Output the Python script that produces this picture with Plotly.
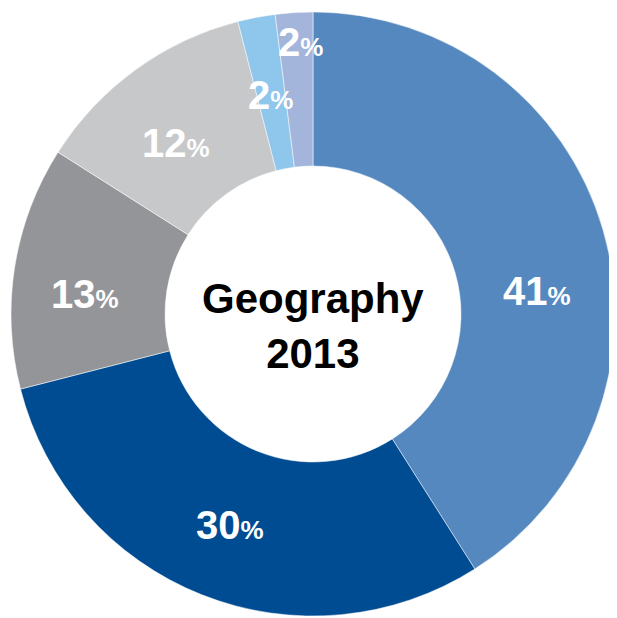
import plotly.graph_objects as go

# slice data, clockwise from 12 o'clock
shares = [41, 30, 13, 12, 2, 2]
colors = ["#5588bf", "#004c93", "#939598", "#c7c8ca", "#8ec6ec", "#a3b5da"]
center_title = ["Geography", "2013"]

# where each percentage label sits (page pixels)
label_px = [(537, 291), (230, 525), (85, 294), (176, 143), (270, 95), (300, 42)]

# the page body has an 8px default margin, so the figure is a bit smaller
PAD = 8
W, H = 617 - PAD, 618 - PAD
cx, cy, r = 313 - PAD, 314 - PAD, 302


def to_paper(px, py):
    return (px - PAD) / W, 1 - (py - PAD) / H


fig = go.Figure(go.Pie(
    values=shares,
    marker=dict(colors=colors, line=dict(color="white", width=0.5)),
    hole=0.49,
    sort=False,
    direction="clockwise",
    rotation=0,
    textinfo="none",
    hoverinfo="skip",
    domain=dict(x=[(cx - r) / W, (cx + r) / W], y=[1 - (cy + r) / H, 1 - (cy - r) / H]),
))

annotations = []
for val, (px, py) in zip(shares, label_px):
    x, y = to_paper(px, py)
    annotations.append(dict(
        x=x, y=y, xref="paper", yref="paper",
        text=f"<b>{val}<span style='font-size:26px'>%</span></b>",
        showarrow=False, xanchor="center", yanchor="middle",
        font=dict(family="Liberation Sans, Arial, sans-serif", size=40, color="white"),
    ))

tx, ty = to_paper(313, 326)
annotations.append(dict(
    x=tx, y=ty, xref="paper", yref="paper",
    text="<b>" + "<br>".join(center_title) + "</b>",
    showarrow=False, xanchor="center", yanchor="middle",
    font=dict(family="Liberation Sans, Arial, sans-serif", size=42, color="black"),
))

fig.update_layout(
    width=W, height=H,
    margin=dict(l=0, r=0, t=0, b=0),
    paper_bgcolor="white", plot_bgcolor="white",
    showlegend=False,
    annotations=annotations,
)

fig.write_html("out.html")
